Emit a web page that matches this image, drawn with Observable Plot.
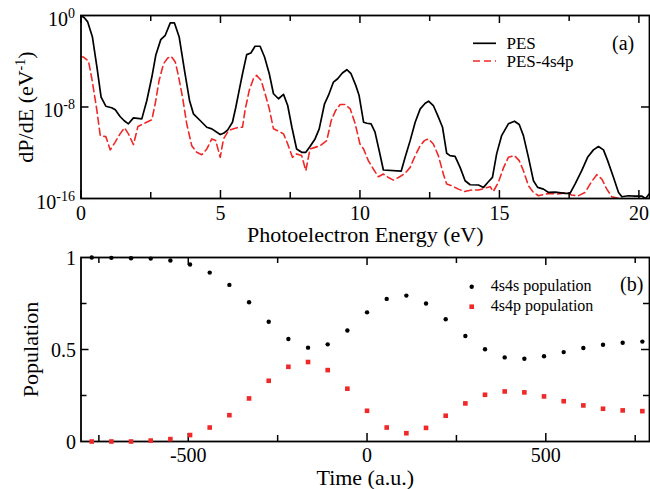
<!DOCTYPE html>
<html><head><meta charset="utf-8">
<script src="https://cdn.jsdelivr.net/npm/d3@7"></script>
<script src="https://cdn.jsdelivr.net/npm/@observablehq/plot@0.6"></script>
<style>
body{margin:0;background:#fff;}
#chart svg{display:block;}
#chart svg, #chart svg text, #chart svg tspan { font-family: "Liberation Serif", "Times New Roman", serif !important; }
</style>
</head><body><div id="chart"></div>
<script>
// ---------- Panel (a): photoelectron spectra (log10 of dP/dE) ----------
const pesE = [0.00,0.12,0.24,0.41,0.57,0.72,0.89,1.10,1.23,1.40,1.55,1.70,1.88,2.18,2.36,2.54,2.68,2.86,3.02,3.20,3.35,3.52,3.71,3.89,4.03,4.27,4.51,4.69,4.99,5.11,5.26,5.43,5.55,5.67,5.79,5.94,6.09,6.24,6.42,6.58,6.75,6.90,7.08,7.26,7.41,7.56,7.73,7.91,8.06,8.21,8.39,8.54,8.73,8.87,9.05,9.20,9.37,9.53,9.68,9.85,9.97,10.13,10.25,10.40,10.54,10.69,10.84,11.48,11.62,11.80,11.98,12.16,12.34,12.46,12.63,12.79,12.96,13.11,13.23,13.41,13.59,13.77,13.95,14.25,14.43,14.58,14.75,14.90,15.08,15.32,15.54,15.71,15.86,16.04,16.22,16.37,16.58,16.76,17.00,17.35,17.53,17.71,17.95,18.16,18.37,18.55,18.73,18.88,19.09,19.27,19.39,19.62,19.86,20.10,20.24,20.38];
const pesLog = [0.0,-0.2,-0.56,-1.88,-4.5,-7.14,-7.93,-8.07,-8.25,-8.83,-9.2,-9.47,-8.95,-9.04,-7.43,-5.38,-3.48,-2.11,-1.73,-0.65,-0.65,-1.88,-4.8,-7.43,-8.6,-9.18,-9.77,-9.91,-10.41,-10.3,-10.0,-9.33,-8.02,-6.55,-5.09,-3.42,-3.28,-2.69,-2.69,-3.63,-5.09,-6.84,-7.28,-6.9,-7.87,-9.77,-11.67,-11.96,-11.96,-11.46,-10.79,-9.91,-7.72,-6.99,-5.82,-5.53,-5.03,-4.74,-5.09,-6.11,-7.0,-9.33,-9.42,-9.47,-10.2,-11.82,-13.51,-13.6,-12.4,-10.94,-9.33,-8.16,-7.67,-7.49,-7.87,-8.75,-9.77,-12.05,-12.25,-12.31,-13.28,-14.45,-14.8,-14.82,-15.03,-14.6,-14.16,-12.1,-10.5,-9.47,-9.24,-9.53,-10.5,-12.4,-14.45,-15.03,-15.18,-15.47,-15.45,-15.56,-15.56,-14.74,-13.57,-12.4,-11.75,-11.46,-11.75,-12.69,-14.16,-15.47,-15.85,-15.76,-15.79,-15.79,-16.0,-15.56];

const pes4E = [0.00,0.09,0.27,0.41,0.57,0.69,0.89,1.05,1.22,1.40,1.56,1.70,1.88,2.04,2.24,2.54,2.66,2.80,2.96,3.11,3.23,3.38,3.49,3.64,3.79,3.97,4.15,4.33,4.51,4.69,4.83,4.99,5.11,5.29,5.47,5.65,5.79,5.88,6.03,6.18,6.30,6.46,6.60,6.75,6.90,7.08,7.26,7.41,7.58,7.73,7.91,8.06,8.21,8.39,8.57,8.81,8.97,9.13,9.29,9.47,9.65,9.83,10.00,10.13,10.30,10.48,10.66,10.84,11.02,11.20,11.38,11.62,11.80,11.98,12.16,12.31,12.46,12.63,12.81,12.99,13.11,13.29,13.53,13.75,14.01,14.25,14.49,14.67,14.78,14.96,15.14,15.32,15.54,15.71,15.86,16.04,16.22,16.40,16.64,16.87,17.11,17.41,17.59,17.83,18.07,18.31,18.49,18.67,18.85,19.03,19.27,19.50,20.38];
const pes4Log = [-3.6,-3.63,-3.98,-5.82,-8.3,-10.5,-10.59,-11.75,-11.09,-10.35,-9.82,-10.35,-11.29,-9.71,-9.47,-9.12,-7.72,-5.68,-4.21,-3.72,-3.57,-4.07,-5.24,-7.14,-9.47,-11.38,-11.96,-12.17,-11.67,-10.79,-10.94,-12.4,-10.79,-10.06,-9.91,-9.77,-9.77,-8.3,-6.55,-5.53,-5.24,-5.68,-6.84,-8.16,-9.91,-10.12,-10.35,-11.23,-12.4,-12.1,-12.25,-13.57,-11.67,-11.53,-11.38,-10.94,-9.18,-8.3,-7.78,-7.78,-8.16,-9.47,-11.23,-11.67,-12.69,-13.42,-14.1,-13.86,-14.16,-14.39,-14.16,-13.8,-13.28,-12.25,-11.38,-10.94,-10.79,-11.23,-12.25,-13.86,-14.74,-14.89,-15.18,-15.39,-15.26,-15.26,-15.09,-14.97,-15.39,-14.6,-13.35,-12.4,-12.25,-12.69,-13.57,-14.89,-15.47,-15.76,-15.61,-15.56,-15.61,-15.47,-15.7,-15.76,-15.47,-14.51,-13.92,-14.3,-15.18,-15.85,-16.0,-16.1,-16.1];

const eMajor = [0, 5, 10, 15, 20];
const eMinor = [2.5, 7.5, 12.5, 17.5];
const pMajor = [1, 1e-8, 1e-16];

// ---------- Panel (b): populations ----------
const times = [-770,-715,-660,-605,-550,-495,-440,-385,-330,-275,-220,-165,-110,-55,0,55,110,165,220,275,330,385,440,495,550,605,660,715,770];
const pop4s4s = [1.0,0.998,0.996,0.994,0.984,0.962,0.918,0.851,0.757,0.651,0.557,0.510,0.528,0.603,0.702,0.775,0.793,0.750,0.664,0.573,0.501,0.457,0.450,0.463,0.486,0.508,0.526,0.537,0.543];
const pop4s4p = [0,0,0,0.005,0.013,0.035,0.076,0.143,0.234,0.330,0.406,0.432,0.388,0.287,0.167,0.076,0.045,0.074,0.140,0.207,0.254,0.272,0.267,0.245,0.219,0.196,0.178,0.169,0.165];
const tMajor = [-500, 0, 500];
const tMinor = [-750, -250, 250, 750];
const popMajor = [0, 0.5, 1];
const popMinor = [0.25, 0.75];

const FONT = "Liberation Serif";
const RED = "#f02828";

function supify(svg) {
  d3.select(svg).selectAll("text").each(function() {
    const t = this.textContent;
    const m = t.match(/^(.*?)\^\{(.*?)\}(.*)$/);
    if (!m) return;
    const el = d3.select(this);
    el.text(null);
    el.append("tspan").text(m[1]);
    el.append("tspan").attr("dy", -8).attr("font-size", 14).text(m[2]);
    if (m[3]) el.append("tspan").attr("dy", 8).text(m[3]);
  });
}

// inward tick marks drawn as short rules (inset from the frame through the scales)
function ticksX(vals, frameH, len) {
  return [
    Plot.ruleX(vals, {x: d => d, insetTop: frameH - len, stroke: "black", strokeWidth: 1.5}),
    Plot.ruleX(vals, {x: d => d, insetBottom: frameH - len, stroke: "black", strokeWidth: 1.5})
  ];
}
function ticksY(vals, frameW, len) {
  return [
    Plot.ruleY(vals, {y: d => d, insetRight: frameW - len, stroke: "black", strokeWidth: 1.5}),
    Plot.ruleY(vals, {y: d => d, insetLeft: frameW - len, stroke: "black", strokeWidth: 1.5})
  ];
}

const specBlack = pesE.map((e, i) => ({e, v: Math.pow(10, pesLog[i])}));
const specRed = pes4E.map((e, i) => ({e, v: Math.pow(10, pes4Log[i])}));

const styleBase = {fontFamily: FONT, fontSize: "20px", color: "black", background: "white", overflow: "visible"};
const W = 650, ML = 80.5, MR = 1;
const FW = W - ML - MR;

const topH = 250, topMT = 15, topMB = 52;
const topFH = topH - topMT - topMB;

const topPlot = Plot.plot({
  width: W, height: topH,
  marginTop: topMT, marginBottom: topMB, marginLeft: ML, marginRight: MR,
  style: styleBase,
  x: {domain: [0, 20.38]},
  y: {type: "log", domain: [1e-16, 1]},
  marks: [
    Plot.line(specRed, {x: "e", y: "v", stroke: RED, strokeWidth: 1.6, strokeDasharray: "7,4", clip: true}),
    Plot.line(specBlack, {x: "e", y: "v", stroke: "black", strokeWidth: 1.7, clip: true}),
    Plot.frame({stroke: "black", strokeWidth: 1.8}),
    ...ticksX(eMajor, topFH, 8),
    ...ticksX(eMinor, topFH, 6),
    ...ticksY(pMajor.slice(1, 2), FW, 8),
    Plot.axisX(eMajor, {anchor: "bottom", tickSize: 0, tickPadding: 7, fontSize: 20, tickFormat: d => String(d), label: null}),
    Plot.axisY(pMajor, {anchor: "left", tickSize: 0, tickPadding: 6, fontSize: 20, dy: 4, tickFormat: d => `10^{${Math.round(Math.log10(d))}}`, label: null}),
    Plot.text(["Photoelectron Energy (eV)"], {text: d => d, frameAnchor: "bottom", dy: 43, lineAnchor: "bottom", textAnchor: "middle", fontSize: 22}),
    Plot.text(["dP/dE (eV^{-1})"], {text: d => d, frameAnchor: "left", dx: -48, rotate: -90, lineAnchor: "bottom", textAnchor: "middle", fontSize: 22})
  ]
});

const popData = times.map((t, i) => ({t, s: pop4s4s[i], p: pop4s4p[i]}));

const botH = 239, botMT = 7, botMB = 48;
const botFH = botH - botMT - botMB;

const botPlot = Plot.plot({
  width: W, height: botH,
  marginTop: botMT, marginBottom: botMB, marginLeft: ML, marginRight: MR,
  style: styleBase,
  x: {domain: [-800, 790]},
  y: {domain: [0, 1]},
  marks: [
    Plot.frame({stroke: "black", strokeWidth: 1.8}),
    ...ticksX(tMajor, botFH, 8),
    ...ticksX(tMinor, botFH, 6),
    ...ticksY(popMajor.slice(1, 2), FW, 8),
    ...ticksY(popMinor, FW, 6),
    Plot.axisX(tMajor, {anchor: "bottom", tickSize: 0, tickPadding: 6, fontSize: 20, tickFormat: d => String(d), label: null}),
    Plot.axisY(popMajor, {anchor: "left", tickSize: 0, tickPadding: 5, fontSize: 20, dy: 1.5, tickFormat: d => String(d), label: null}),
    Plot.dot(popData, {x: "t", y: "s", r: 2.2, fill: "black"}),
    Plot.dot(popData, {x: "t", y: "p", symbol: "square", r: 2.6, fill: RED}),
    Plot.text(["Time (a.u.)"], {text: d => d, frameAnchor: "bottom", dy: 43, lineAnchor: "bottom", textAnchor: "middle", fontSize: 22}),
    Plot.text(["Population"], {text: d => d, frameAnchor: "left", dx: -43, rotate: -90, lineAnchor: "bottom", textAnchor: "middle", fontSize: 22})
  ]
});

supify(topPlot);

// legends and panel letters
(function() {
  const s = d3.select(topPlot).append("g").attr("font-family", FONT).attr("text-anchor", "start").attr("fill", "black");
  s.append("line").attr("x1", 473).attr("x2", 496).attr("y1", 43.3).attr("y2", 43.3).attr("stroke", "black").attr("stroke-width", 1.7);
  s.append("text").attr("x", 506.5).attr("y", 49.3).attr("font-size", 17).text("PES");
  s.append("line").attr("x1", 473).attr("x2", 496).attr("y1", 61).attr("y2", 61).attr("stroke", RED).attr("stroke-width", 1.6).attr("stroke-dasharray", "7,4");
  s.append("text").attr("x", 506.5).attr("y", 66.7).attr("font-size", 17).text("PES-4s4p");
  s.append("text").attr("x", 612).attr("y", 49.5).attr("font-size", 20).text("(a)");

  const b = d3.select(botPlot).append("g").attr("font-family", FONT).attr("text-anchor", "start").attr("fill", "black");
  b.append("circle").attr("cx", 471.7).attr("cy", 36.7).attr("r", 2.2).attr("fill", "black");
  b.append("text").attr("x", 490.7).attr("y", 41).attr("font-size", 16).text("4s4s population");
  b.append("rect").attr("x", 471.7 - 2.3).attr("y", 56.7 - 2.3).attr("width", 4.6).attr("height", 4.6).attr("fill", RED);
  b.append("text").attr("x", 490.7).attr("y", 61).attr("font-size", 16).text("4s4p population");
  b.append("text").attr("x", 620).attr("y", 40.7).attr("font-size", 20).text("(b)");
})();

document.getElementById("chart").append(topPlot, botPlot);
</script>
</body></html>
